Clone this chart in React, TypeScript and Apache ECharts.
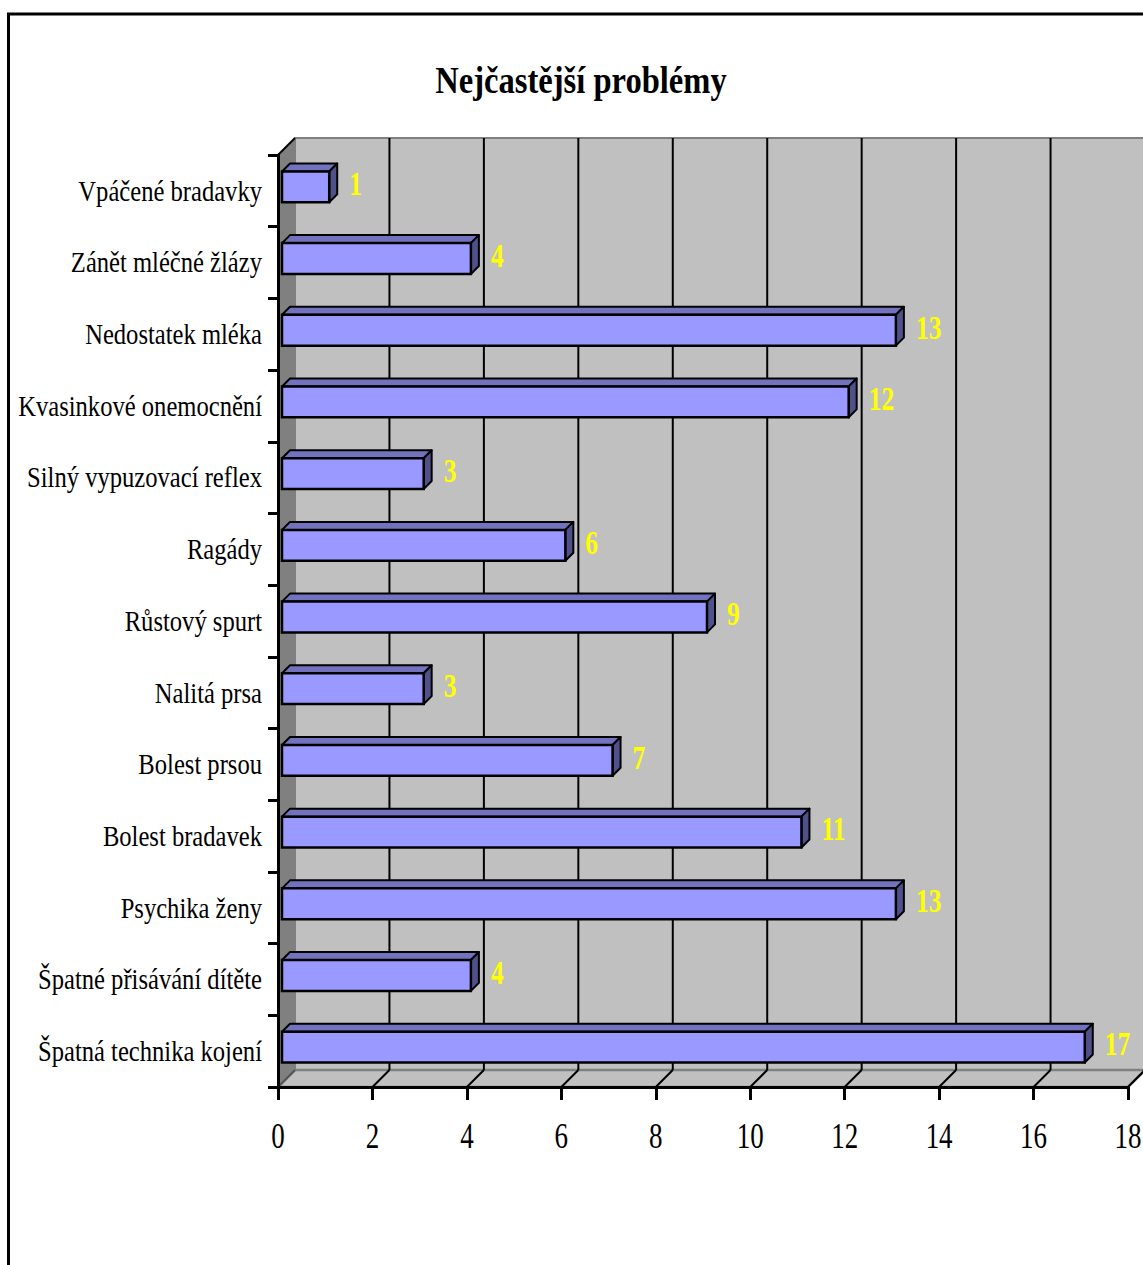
import React, { useEffect, useRef } from "react";
import * as echarts from "echarts";

const categories = [
  "Vpáčené bradavky",
  "Zánět mléčné žlázy",
  "Nedostatek mléka",
  "Kvasinkové onemocnění",
  "Silný vypuzovací reflex",
  "Ragády",
  "Růstový spurt",
  "Nalitá prsa",
  "Bolest prsou",
  "Bolest bradavek",
  "Psychika ženy",
  "Špatné přisávání dítěte",
  "Špatná technika kojení",
];
const values = [1, 4, 13, 12, 3, 6, 9, 3, 7, 11, 13, 4, 17];
const xTicks = [0, 2, 4, 6, 8, 10, 12, 14, 16, 18];
const titleText = "Nejčastější problémy";

const FONT = "'Liberation Serif', 'Times New Roman', serif";
const DEPTH = 17;
const BAR_OFF = 4;
const BAR_DEPTH = 8;

export default function App() {
  const ref = useRef<HTMLDivElement>(null);
  useEffect(() => {
    if (!ref.current) return;
    const chart = echarts.init(ref.current, undefined, { renderer: "svg" });

    const wallsRender = (params: any, api: any) => {
      const cs = params.coordSys;
      const x0 = cs.x, y0 = cs.y, x1 = cs.x + cs.width, y1 = cs.y + cs.height;
      const d = DEPTH;
      const children: any[] = [];
      children.push({
        type: "rect",
        shape: { x: x0 + d, y: y0 - d, width: x1 - x0, height: y1 - y0 },
        style: { fill: "#c0c0c0", stroke: "#808080", lineWidth: 2 },
      });
      children.push({
        type: "polygon",
        shape: { points: [[x0, y0], [x0 + d, y0 - d], [x0 + d, y1 - d], [x0, y1]] },
        style: { fill: "#808080", stroke: null },
      });
      children.push({
        type: "polygon",
        shape: { points: [[x0, y1], [x0 + d, y1 - d], [x1 + d, y1 - d], [x1, y1]] },
        style: { fill: "#c0c0c0", stroke: "#808080", lineWidth: 2.5 },
      });
      children.push({
        type: "line",
        shape: { x1: x0, y1: y0, x2: x0 + d, y2: y0 - d },
        style: { stroke: "#000", lineWidth: 2 },
      });
      xTicks.forEach((t) => {
        const px = api.coord([t, 0])[0];
        if (t > 0) {
          children.push({
            type: "line",
            shape: { x1: px + d, y1: y0 - d, x2: px + d, y2: y1 - d },
            style: { stroke: "#000", lineWidth: 2 },
          });
        }
        children.push({
          type: "line",
          shape: { x1: px, y1: y1, x2: px + d, y2: y1 - d },
          style: { stroke: t === 0 ? "#555" : "#000", lineWidth: 2 },
        });
        children.push({
          type: "text",
          x: px,
          y: y1 + 49,
          scaleX: 0.75,
          style: {
            x: 0,
            y: 0,
            text: String(t),
            fill: "#000",
            font: `36px ${FONT}`,
            textAlign: "center",
            textVerticalAlign: "middle",
          },
        });
      });
      return { type: "group", children };
    };

    const catLabelRender = (params: any, api: any) => {
      const ci = api.value(1);
      const p = api.coord([0, ci]);
      return {
        type: "text",
        x: p[0] - 16,
        y: p[1],
        scaleX: 0.82,
        style: {
          x: 0,
          y: 0,
          text: categories[ci],
          fill: "#000",
          font: `30px ${FONT}`,
          textAlign: "right",
          textVerticalAlign: "middle",
        },
      };
    };

    const barRender = (params: any, api: any) => {
      const v = api.value(0);
      const ci = api.value(1);
      const p0 = api.coord([0, ci]);
      const p1 = api.coord([v, ci]);
      const bh = api.size([0, 1])[1] * 0.43;
      const xL = p0[0] + BAR_OFF;
      const xR = p1[0] + BAR_OFF;
      const yT = p0[1] - BAR_OFF - bh / 2;
      const yB = yT + bh;
      const b = BAR_DEPTH;
      return {
        type: "group",
        children: [
          {
            type: "polygon",
            shape: { points: [[xL, yT], [xL + b, yT - b], [xR + b, yT - b], [xR, yT]] },
            style: { fill: "#7272bf", stroke: "#000", lineWidth: 2, lineJoin: "round" },
          },
          {
            type: "polygon",
            shape: { points: [[xR, yT], [xR + b, yT - b], [xR + b, yB - b], [xR, yB]] },
            style: { fill: "#50508a", stroke: "#000", lineWidth: 2, lineJoin: "round" },
          },
          {
            type: "rect",
            shape: { x: xL, y: yT, width: xR - xL, height: bh },
            style: { fill: "#9999ff", stroke: "#000", lineWidth: 2.5 },
          },
          {
            type: "text",
            x: xR + b + 12,
            y: (yT - b + yB) / 2 + 1,
            scaleX: 0.75,
            style: {
              x: 0,
              y: 0,
              text: String(v),
              fill: "#ffff00",
              font: `bold 34px ${FONT}`,
              textAlign: "left",
              textVerticalAlign: "middle",
            },
          },
        ],
      };
    };

    chart.setOption({
      animation: false,
      backgroundColor: "#ffffff",
      grid: { left: 278, top: 155, width: 850, height: 932, containLabel: false },
      xAxis: {
        type: "value",
        min: 0,
        max: 18,
        interval: 2,
        z: 5,
        axisLine: { show: true, lineStyle: { color: "#000", width: 3 } },
        axisTick: { show: true, inside: false, length: 13, lineStyle: { color: "#000", width: 3 } },
        splitLine: { show: false },
        axisLabel: { show: false },
      },
      yAxis: {
        type: "category",
        data: categories,
        inverse: true,
        z: 5,
        axisLine: { show: true, lineStyle: { color: "#000", width: 3 } },
        axisTick: { show: true, length: 10, lineStyle: { color: "#000", width: 3 } },
        splitLine: { show: false },
        axisLabel: { show: false },
      },
      series: [
        {
          type: "custom",
          z: 1,
          clip: false,
          silent: true,
          renderItem: wallsRender,
          data: [[0, 0]],
          encode: { x: 0, y: 1 },
        },
        {
          type: "custom",
          z: 3,
          clip: false,
          renderItem: barRender,
          data: values.map((v, i) => [v, i]),
          encode: { x: 0, y: 1 },
        },
        {
          type: "custom",
          z: 4,
          clip: false,
          silent: true,
          renderItem: catLabelRender,
          data: categories.map((c, i) => [0, i]),
          encode: { x: 0, y: 1 },
        },
      ],
      graphic: [
        {
          type: "text",
          x: 581,
          y: 81,
          scaleX: 0.88,
          z: 10,
          style: {
            x: 0,
            y: 0,
            text: titleText,
            fill: "#000",
            font: `bold 37px ${FONT}`,
            textAlign: "center",
            textVerticalAlign: "middle",
          },
        },
        {
          type: "rect",
          z: 10,
          shape: { x: 8.5, y: 14, width: 1250, height: 1350 },
          style: { fill: "none", stroke: "#000", lineWidth: 3 },
          silent: true,
        },
      ],
    });
    return () => chart.dispose();
  }, []);
  return (
    <div
      ref={ref}
      style={{ position: "fixed", left: 0, top: 0, width: 1143, height: 1265 }}
    />
  );
}
